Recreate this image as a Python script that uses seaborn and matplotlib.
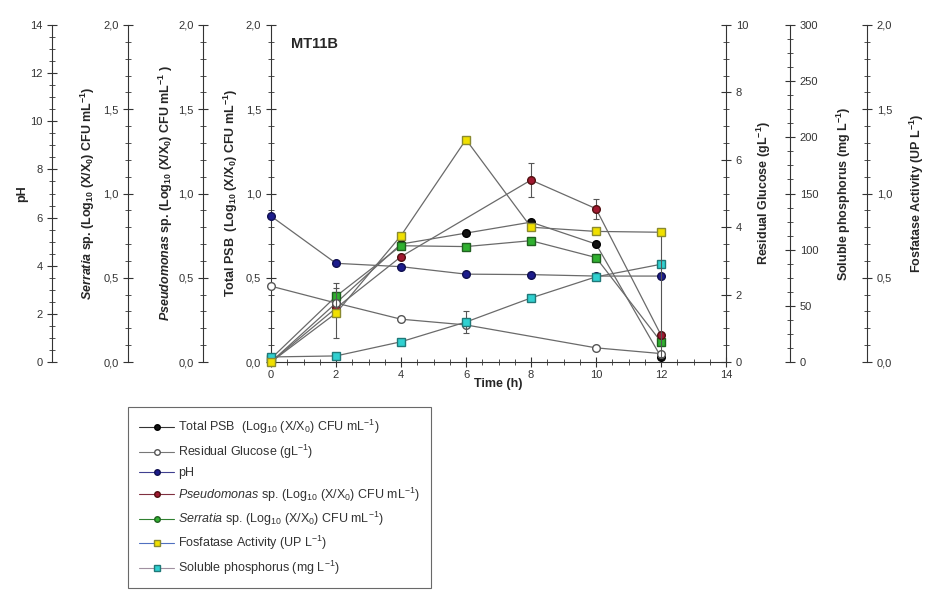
import matplotlib
matplotlib.use("Agg")
import matplotlib.pyplot as plt
import numpy as np
import seaborn as sns
from matplotlib.lines import Line2D
from matplotlib.ticker import MultipleLocator, FuncFormatter

sns.set_style("ticks")
plt.rcParams['font.family'] = ['Liberation Sans', 'DejaVu Sans']
plt.rcParams['mathtext.fontset'] = 'custom'
plt.rcParams['mathtext.rm'] = 'Liberation Sans'
plt.rcParams['mathtext.it'] = 'Liberation Sans:italic'
plt.rcParams['mathtext.bf'] = 'Liberation Sans:bold'
plt.rcParams['mathtext.bfit'] = 'Liberation Sans:italic:bold'

# data
time = [0, 2, 4, 6, 8, 10, 12]
total_psb = [0.0, 0.35, 0.70, 0.765, 0.83, 0.70, 0.03]
ph = [6.06, 4.1, 3.96, 3.65, 3.63, 3.57, 3.57]
glucose_time = [0, 2, 4, 6, 10, 12]
glucose = [2.25, 1.75, 1.27, 1.1, 0.42, 0.25]
pseudo_time = [0, 2, 4, 8, 10, 12]
pseudo = [0.0, 0.32, 0.625, 1.08, 0.91, 0.16]
pseudo_err = [0.0, 0.0, 0.0, 0.10, 0.06, 0.0]
serratia = [0.02, 0.39, 0.69, 0.685, 0.72, 0.62, 0.12]
serratia_err = [0.0, 0.08, 0.0, 0.0, 0.0, 0.0, 0.0]
fosfatase = [0.0, 0.29, 0.75, 1.32, 0.80, 0.775, 0.77]
fosf_err_low = [0.0, 0.15, 0.0, 0.0, 0.0, 0.0, 0.74]
fosf_err_high = [0.0, 0.15, 0.0, 0.0, 0.0, 0.0, 0.0]
sol_p = [4.5, 5.4, 18, 35.6, 57, 75.8, 87]
sol_p_err = [0, 0, 0, 9.75, 0, 0, 0]

W, H = 927, 590
fig = plt.figure(figsize=(W / 100, H / 100), dpi=100)
x0, x1, y0, y1 = 271, 726, 25, 362
ax = fig.add_axes([x0 / W, 1 - y1 / H, (x1 - x0) / W, (y1 - y0) / H])
ax.patch.set_alpha(0)

comma = FuncFormatter(lambda v, p: f"{v:.1f}".replace('.', ','))
tick_kw = dict(labelsize=8, labelcolor='#333333', color='#333333')


def style_y(a, lim, major, minor, fmt=None):
    a.set_ylim(*lim)
    a.yaxis.set_major_locator(MultipleLocator(major))
    a.yaxis.set_minor_locator(MultipleLocator(minor))
    if fmt is not None:
        a.yaxis.set_major_formatter(fmt)
    a.tick_params(axis='y', which='major', direction='inout', length=7, width=0.8, **tick_kw)
    a.tick_params(axis='y', which='minor', direction='inout', length=4, width=0.6, color='#333333')


def extra_axis(offset, side):
    a = ax.twinx()
    a.patch.set_alpha(0)
    for s in a.spines.values():
        s.set_visible(False)
    a.spines[side].set_visible(True)
    a.spines[side].set_position(('axes', offset))
    a.spines[side].set_color('#333333')
    a.yaxis.set_ticks_position(side)
    a.yaxis.set_label_position(side)
    return a


# main axis (Total PSB) and time
ax.set_xlim(0, 14)
ax.xaxis.set_major_locator(MultipleLocator(2))
ax.xaxis.set_minor_locator(MultipleLocator(0.5))
ax.tick_params(axis='x', which='major', direction='inout', length=7, width=0.8, pad=2, **tick_kw)
ax.tick_params(axis='x', which='minor', direction='inout', length=4, width=0.6, color='#333333')
style_y(ax, (0, 2), 0.5, 0.1, comma)
ax.spines['top'].set_visible(False)
ax.spines['right'].set_visible(False)
for s in ['left', 'bottom']:
    ax.spines[s].set_color('#333333')
ax.set_xlabel('Time (h)', fontsize=9, fontweight='bold', labelpad=-1)
ax.set_ylabel(r'Total PSB  (Log$_{\mathbf{10}}$ (X/X$_{\mathbf{0}}$) CFU mL$^{\mathbf{-1}}$)',
              fontsize=9, fontweight='bold', labelpad=4)

ax_ph = extra_axis(-0.481, 'left')
style_y(ax_ph, (0, 14), 2, 0.5)
ax_ph.set_ylabel('pH', fontsize=9, fontweight='bold', labelpad=1)

ax_ser = extra_axis(-0.314, 'left')
style_y(ax_ser, (0, 2), 0.5, 0.1, comma)
ax_ser.set_ylabel(r'$\mathbfit{Serratia}$ sp. (Log$_{\mathbf{10}}$ (X/X$_{\mathbf{0}}$) CFU mL$^{\mathbf{-1}}$)',
                  fontsize=9, fontweight='bold', labelpad=4)

ax_ps = extra_axis(-0.149, 'left')
style_y(ax_ps, (0, 2), 0.5, 0.1, comma)
ax_ps.set_ylabel(r'$\mathbfit{Pseudomonas}$ sp. (Log$_{\mathbf{10}}$ (X/X$_{\mathbf{0}}$) CFU mL$^{\mathbf{-1}}$ )',
                 fontsize=9, fontweight='bold', labelpad=2)

ax_gl = extra_axis(1.0, 'right')
style_y(ax_gl, (0, 10), 2, 0.5)
ax_gl.set_ylabel(r'Residual Glucose (gL$^{\mathbf{-1}}$)', fontsize=9, fontweight='bold', labelpad=5)

ax_sp = extra_axis(1.141, 'right')
style_y(ax_sp, (0, 300), 50, 12.5)
ax_sp.set_ylabel(r'Soluble phosphorus (mg L$^{\mathbf{-1}}$)', fontsize=9, fontweight='bold', labelpad=12)

ax_fo = extra_axis(1.31, 'right')
style_y(ax_fo, (0, 2), 0.5, 0.1, comma)
ax_fo.set_ylabel(r'Fosfatase Activity (UP L$^{\mathbf{-1}}$)', fontsize=9, fontweight='bold', labelpad=11)

line_c = '#6a6a6a'
err_kw = dict(fmt='none', ecolor='#555555', elinewidth=0.8, capsize=2.5, capthick=0.8)

series = [
    (ax_gl, glucose_time, glucose, 'o', 'white', '#555555'),
    (ax_ph, time, ph, 'o', '#1c1c8c', '#101050'),
    (ax_sp, time, sol_p, 's', '#30d0d0', '#207878'),
    (ax_ps, pseudo_time, pseudo, 'o', '#a01830', '#501010'),
    (ax_ser, time, serratia, 's', '#30b030', '#206020'),
    (ax, time, total_psb, 'o', '#111111', '#000000'),
    (ax_fo, time, fosfatase, 's', '#f0e000', '#8a8a30'),
]
ax_sp.errorbar(time, sol_p, yerr=sol_p_err, **err_kw)
ax_ps.errorbar(pseudo_time, pseudo, yerr=pseudo_err, **err_kw)
ax_ser.errorbar(time, serratia, yerr=serratia_err, **err_kw)
ax_fo.errorbar(time, fosfatase, yerr=[fosf_err_low, fosf_err_high], **err_kw)
for a, xs, ys, m, fc, ec in series:
    sns.lineplot(x=xs, y=ys, ax=a, color=line_c, linewidth=0.9, marker=m,
                 markersize=5.5, markerfacecolor=fc, markeredgecolor=ec,
                 markeredgewidth=1.0, legend=False, clip_on=False, zorder=3)

ax.text(0.045, 0.965, 'MT11B', transform=ax.transAxes, fontsize=10.5,
        fontweight='bold', va='top', ha='left')

handles = [
    Line2D([], [], color='#333333', marker='o', mfc='#111111', mec='#000000', ms=4, lw=0.8),
    Line2D([], [], color='#777777', marker='o', mfc='white', mec='#555555', ms=4, lw=0.8),
    Line2D([], [], color='#404090', marker='o', mfc='#1c1c8c', mec='#101050', ms=4, lw=0.8),
    Line2D([], [], color='#803040', marker='o', mfc='#a01830', mec='#501010', ms=4, lw=0.8),
    Line2D([], [], color='#308030', marker='o', mfc='#30b030', mec='#206020', ms=4, lw=0.8),
    Line2D([], [], color='#5070c0', marker='s', mfc='#f0e000', mec='#8a8a30', ms=4.5, lw=0.8),
    Line2D([], [], color='#a090a0', marker='s', mfc='#30d0d0', mec='#207878', ms=4.5, lw=0.8),
]
labels = [
    r'Total PSB  (Log$_{10}$ (X/X$_0$) CFU mL$^{-1}$)',
    r'Residual Glucose (gL$^{-1}$)',
    'pH',
    r'$\it{Pseudomonas}$ sp. (Log$_{10}$ (X/X$_0$) CFU mL$^{-1}$)',
    r'$\it{Serratia}$ sp. (Log$_{10}$ (X/X$_0$) CFU mL$^{-1}$)',
    r'Fosfatase Activity (UP L$^{-1}$)',
    r'Soluble phosphorus (mg L$^{-1}$)',
]
leg = fig.legend(handles, labels, loc='upper left', bbox_to_anchor=(128 / W, 1 - 407 / H),
                 fontsize=9, frameon=True, fancybox=False, edgecolor='#444444',
                 handlelength=2.8, handletextpad=0.3, labelspacing=0.5,
                 borderpad=0.9, borderaxespad=0)
leg.get_frame().set_linewidth(0.8)
for t in leg.get_texts():
    t.set_color('#333333')

fig.savefig('out.png', dpi=100)
